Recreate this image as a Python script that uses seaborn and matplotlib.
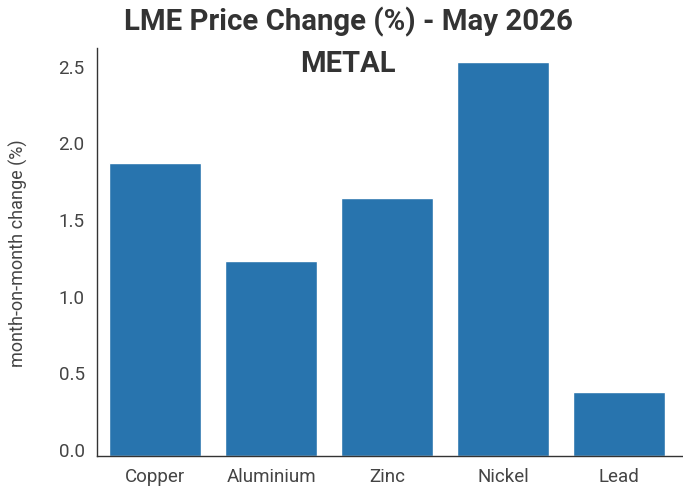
import matplotlib
matplotlib.use("Agg")
import matplotlib.pyplot as plt
import seaborn as sns
import pandas as pd

metals = ["Copper", "Aluminium", "Zinc", "Nickel", "Lead"]
changes = [1.91, 1.27, 1.68, 2.57, 0.42]
y_ticks = [0.0, 0.5, 1.0, 1.5, 2.0, 2.5]

df = pd.DataFrame({"METAL": metals, "change": changes})

sns.set_theme(style="white")
plt.rcParams["font.family"] = ["Roboto", "DejaVu Sans"]
text_color = "#333333"
tick_color = "#444444"

fig = plt.figure(figsize=(6.83, 4.89), dpi=100)
ax = fig.add_axes([97 / 683, 1 - 457 / 489, (683 - 97) / 683, (457 - 49) / 489])

sns.barplot(data=df, x="METAL", y="change", color="#2874ae", saturation=1,
            width=0.79, ax=ax)

ax.set_ylim(0, 2.66)
ax.set_xlim(-0.5, 4.55)
ax.set_yticks(y_ticks)
ax.set_yticklabels([f"{v:.1f}" for v in y_ticks])
ax.tick_params(axis="both", length=0, labelsize=13.5, colors=tick_color)
ax.tick_params(axis="y", pad=9)
ax.tick_params(axis="x", pad=8)
for lbl in ax.get_yticklabels():
    lbl.set_verticalalignment("baseline")

ax.set_xlabel("")
ax.set_ylabel("month-on-month change (%)", fontsize=13, color=tick_color, labelpad=22)

for side in ["top", "right"]:
    ax.spines[side].set_visible(False)
for side in ["left", "bottom"]:
    ax.spines[side].set_color("#333333")
    ax.spines[side].set_linewidth(1.0)

fig.text(348 / 683, 1 - 22 / 489, "LME Price Change (%) - May 2026", ha="center", va="center",
         fontsize=21.2, fontweight="bold", color=text_color)
fig.text(348 / 683, 1 - 64 / 489, "METAL", ha="center", va="center",
         fontsize=21, fontweight="bold", color=text_color)

fig.savefig("out.png", dpi=100)
